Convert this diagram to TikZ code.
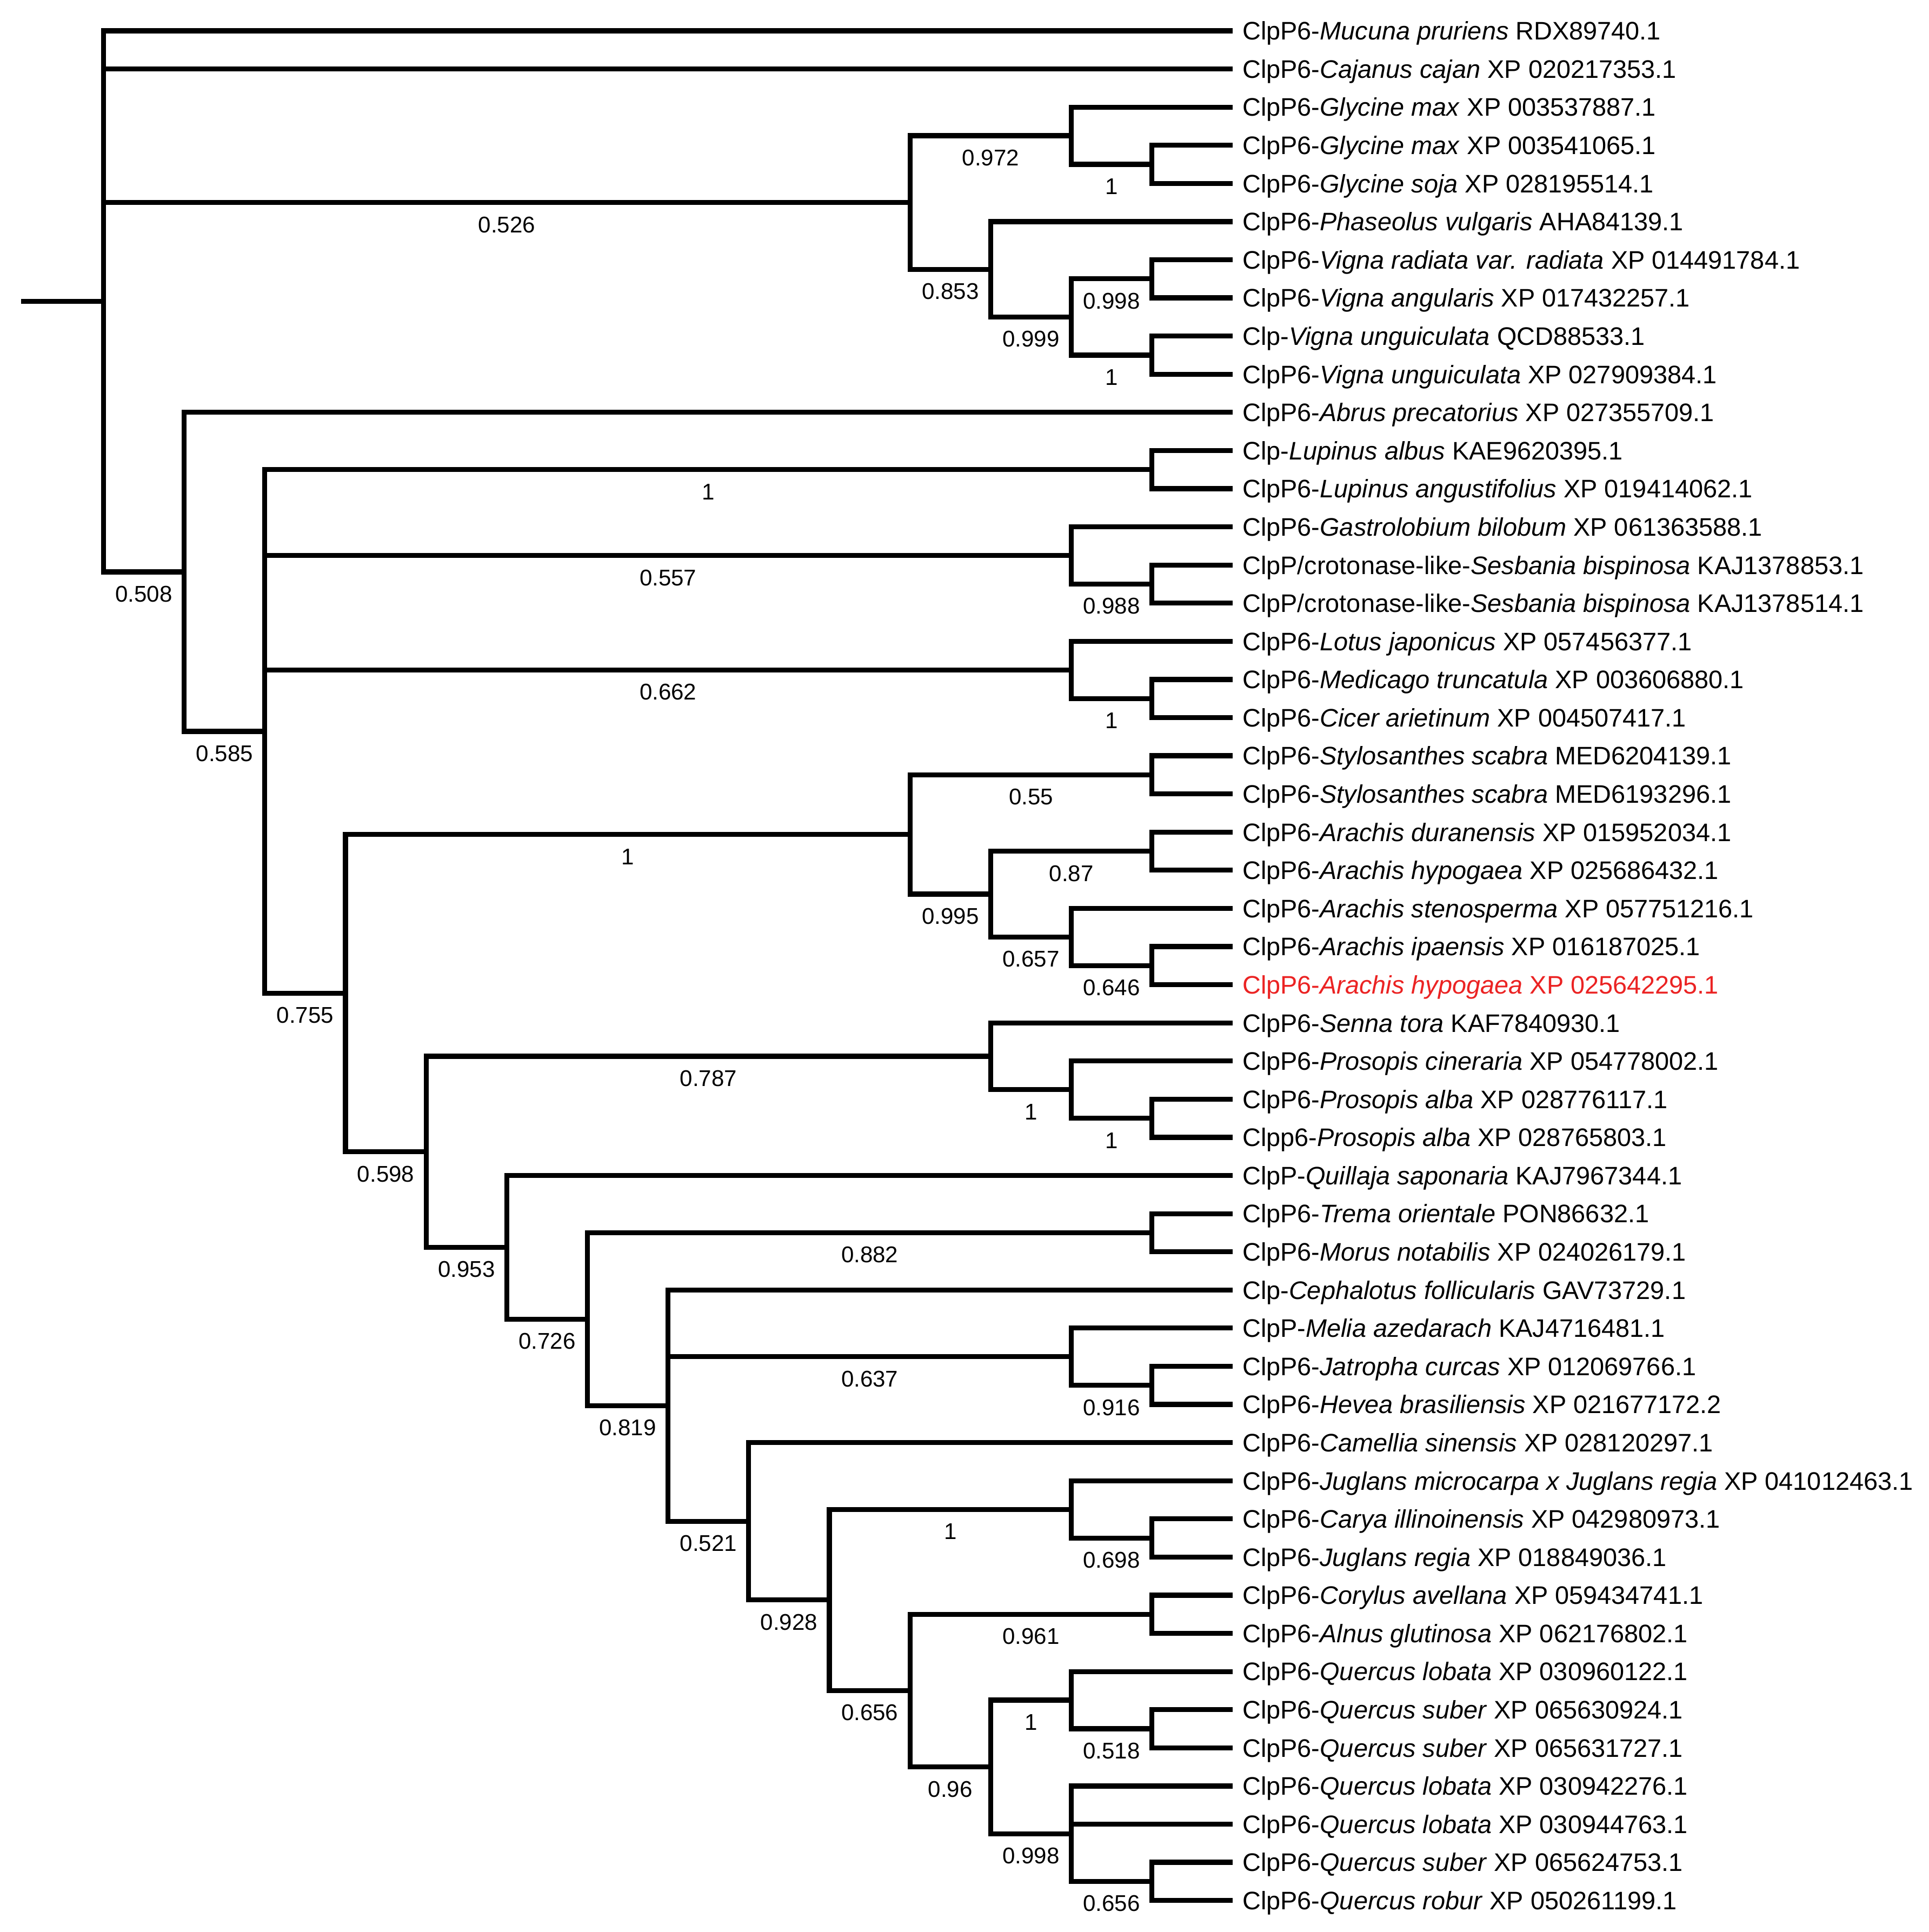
\documentclass[tikz,border=0pt]{standalone}
\usepackage{fontspec}
\setmainfont{Liberation Sans}
\usepackage{tikz}
\definecolor{HiRed}{RGB}{235,35,35}

\begin{document}
\begin{tikzpicture}[x=1.3086cm,y=-0.6192cm,line width=2.3pt]
		\tikzstyle{Leaf}=[anchor=base west,inner sep=0pt,xshift=0.12cm,yshift=-4.2pt,font=\fontsize{11.7}{14}\selectfont]
		\tikzstyle{Support}=[inner sep=0pt,yshift=-0.36cm,font=\fontsize{10.5}{12}\selectfont]
		\useasboundingbox (-1.2838,0.1925) rectangle (22.635,50.827);
		% leaves
		\coordinate (l1) at (14,1);   \node[Leaf] (t1) at (l1) {ClpP6-\textit{Mucuna pruriens} RDX89740.1};
		\coordinate (l2) at (14,2);   \node[Leaf] (t2) at (l2) {ClpP6-\textit{Cajanus cajan} XP 020217353.1};
		\coordinate (l3) at (14,3);   \node[Leaf] (t3) at (l3) {ClpP6-\textit{Glycine max} XP 003537887.1};
		\coordinate (l4) at (14,4);   \node[Leaf] (t4) at (l4) {ClpP6-\textit{Glycine max} XP 003541065.1};
		\coordinate (l5) at (14,5);   \node[Leaf] (t5) at (l5) {ClpP6-\textit{Glycine soja} XP 028195514.1};
		\coordinate (l6) at (14,6);   \node[Leaf] (t6) at (l6) {ClpP6-\textit{Phaseolus vulgaris} AHA84139.1};
		\coordinate (l7) at (14,7);   \node[Leaf] (t7) at (l7) {ClpP6-\textit{Vigna radiata var. radiata} XP 014491784.1};
		\coordinate (l8) at (14,8);   \node[Leaf] (t8) at (l8) {ClpP6-\textit{Vigna angularis} XP 017432257.1};
		\coordinate (l9) at (14,9);   \node[Leaf] (t9) at (l9) {Clp-\textit{Vigna unguiculata} QCD88533.1};
		\coordinate (l10) at (14,10); \node[Leaf] (t10) at (l10) {ClpP6-\textit{Vigna unguiculata} XP 027909384.1};
		\coordinate (l11) at (14,11); \node[Leaf] (t11) at (l11) {ClpP6-\textit{Abrus precatorius} XP 027355709.1};
		\coordinate (l12) at (14,12); \node[Leaf] (t12) at (l12) {Clp-\textit{Lupinus albus} KAE9620395.1};
		\coordinate (l13) at (14,13); \node[Leaf] (t13) at (l13) {ClpP6-\textit{Lupinus angustifolius} XP 019414062.1};
		\coordinate (l14) at (14,14); \node[Leaf] (t14) at (l14) {ClpP6-\textit{Gastrolobium bilobum} XP 061363588.1};
		\coordinate (l15) at (14,15); \node[Leaf] (t15) at (l15) {ClpP/crotonase-like-\textit{Sesbania bispinosa} KAJ1378853.1};
		\coordinate (l16) at (14,16); \node[Leaf] (t16) at (l16) {ClpP/crotonase-like-\textit{Sesbania bispinosa} KAJ1378514.1};
		\coordinate (l17) at (14,17); \node[Leaf] (t17) at (l17) {ClpP6-\textit{Lotus japonicus} XP 057456377.1};
		\coordinate (l18) at (14,18); \node[Leaf] (t18) at (l18) {ClpP6-\textit{Medicago truncatula} XP 003606880.1};
		\coordinate (l19) at (14,19); \node[Leaf] (t19) at (l19) {ClpP6-\textit{Cicer arietinum} XP 004507417.1};
		\coordinate (l20) at (14,20); \node[Leaf] (t20) at (l20) {ClpP6-\textit{Stylosanthes scabra} MED6204139.1};
		\coordinate (l21) at (14,21); \node[Leaf] (t21) at (l21) {ClpP6-\textit{Stylosanthes scabra} MED6193296.1};
		\coordinate (l22) at (14,22); \node[Leaf] (t22) at (l22) {ClpP6-\textit{Arachis duranensis} XP 015952034.1};
		\coordinate (l23) at (14,23); \node[Leaf] (t23) at (l23) {ClpP6-\textit{Arachis hypogaea} XP 025686432.1};
		\coordinate (l24) at (14,24); \node[Leaf] (t24) at (l24) {ClpP6-\textit{Arachis stenosperma} XP 057751216.1};
		\coordinate (l25) at (14,25); \node[Leaf] (t25) at (l25) {ClpP6-\textit{Arachis ipaensis} XP 016187025.1};
		\coordinate (l26) at (14,26); \node[Leaf,text=HiRed] (t26) at (l26) {ClpP6-\textit{Arachis hypogaea} XP 025642295.1};
		\coordinate (l27) at (14,27); \node[Leaf] (t27) at (l27) {ClpP6-\textit{Senna tora} KAF7840930.1};
		\coordinate (l28) at (14,28); \node[Leaf] (t28) at (l28) {ClpP6-\textit{Prosopis cineraria} XP 054778002.1};
		\coordinate (l29) at (14,29); \node[Leaf] (t29) at (l29) {ClpP6-\textit{Prosopis alba} XP 028776117.1};
		\coordinate (l30) at (14,30); \node[Leaf] (t30) at (l30) {Clpp6-\textit{Prosopis alba} XP 028765803.1};
		\coordinate (l31) at (14,31); \node[Leaf] (t31) at (l31) {ClpP-\textit{Quillaja saponaria} KAJ7967344.1};
		\coordinate (l32) at (14,32); \node[Leaf] (t32) at (l32) {ClpP6-\textit{Trema orientale} PON86632.1};
		\coordinate (l33) at (14,33); \node[Leaf] (t33) at (l33) {ClpP6-\textit{Morus notabilis} XP 024026179.1};
		\coordinate (l34) at (14,34); \node[Leaf] (t34) at (l34) {Clp-\textit{Cephalotus follicularis} GAV73729.1};
		\coordinate (l35) at (14,35); \node[Leaf] (t35) at (l35) {ClpP-\textit{Melia azedarach} KAJ4716481.1};
		\coordinate (l36) at (14,36); \node[Leaf] (t36) at (l36) {ClpP6-\textit{Jatropha curcas} XP 012069766.1};
		\coordinate (l37) at (14,37); \node[Leaf] (t37) at (l37) {ClpP6-\textit{Hevea brasiliensis} XP 021677172.2};
		\coordinate (l38) at (14,38); \node[Leaf] (t38) at (l38) {ClpP6-\textit{Camellia sinensis} XP 028120297.1};
		\coordinate (l39) at (14,39); \node[Leaf] (t39) at (l39) {ClpP6-\textit{Juglans microcarpa x Juglans regia} XP 041012463.1};
		\coordinate (l40) at (14,40); \node[Leaf] (t40) at (l40) {ClpP6-\textit{Carya illinoinensis} XP 042980973.1};
		\coordinate (l41) at (14,41); \node[Leaf] (t41) at (l41) {ClpP6-\textit{Juglans regia} XP 018849036.1};
		\coordinate (l42) at (14,42); \node[Leaf] (t42) at (l42) {ClpP6-\textit{Corylus avellana} XP 059434741.1};
		\coordinate (l43) at (14,43); \node[Leaf] (t43) at (l43) {ClpP6-\textit{Alnus glutinosa} XP 062176802.1};
		\coordinate (l44) at (14,44); \node[Leaf] (t44) at (l44) {ClpP6-\textit{Quercus lobata} XP 030960122.1};
		\coordinate (l45) at (14,45); \node[Leaf] (t45) at (l45) {ClpP6-\textit{Quercus suber} XP 065630924.1};
		\coordinate (l46) at (14,46); \node[Leaf] (t46) at (l46) {ClpP6-\textit{Quercus suber} XP 065631727.1};
		\coordinate (l47) at (14,47); \node[Leaf] (t47) at (l47) {ClpP6-\textit{Quercus lobata} XP 030942276.1};
		\coordinate (l48) at (14,48); \node[Leaf] (t48) at (l48) {ClpP6-\textit{Quercus lobata} XP 030944763.1};
		\coordinate (l49) at (14,49); \node[Leaf] (t49) at (l49) {ClpP6-\textit{Quercus suber} XP 065624753.1};
		\coordinate (l50) at (14,50); \node[Leaf] (t50) at (l50) {ClpP6-\textit{Quercus robur} XP 050261199.1};
		% inner nodes
		\coordinate (root) at (-1.02,8.0901);
		\coordinate (n0) at (0,8.0901);
		\coordinate (a) at (10,5.5);
		\coordinate (g) at (12,3.75);
		\coordinate (g1) at (13,4.5);
		\coordinate (p) at (11,7.25);
		\coordinate (v) at (12,8.5);
		\coordinate (v1) at (13,7.5);
		\coordinate (v2) at (13,9.5);
		\coordinate (b) at (1,15.1802);
		\coordinate (c) at (2,19.3604);
		\coordinate (lu) at (13,12.5);
		\coordinate (ga) at (12,14.75);
		\coordinate (ga1) at (13,15.5);
		\coordinate (lo) at (12,17.75);
		\coordinate (lo1) at (13,18.5);
		\coordinate (d) at (3,26.2207);
		\coordinate (arst) at (10,22.0625);
		\coordinate (st) at (13,20.5);
		\coordinate (ar) at (11,23.625);
		\coordinate (ar1) at (13,22.5);
		\coordinate (ar2) at (12,24.75);
		\coordinate (ar3) at (13,25.5);
		\coordinate (e) at (4,30.3789);
		\coordinate (se) at (11,27.875);
		\coordinate (pr) at (12,28.75);
		\coordinate (pr1) at (13,29.5);
		\coordinate (f) at (5,32.8828);
		\coordinate (g2) at (6,34.7656);
		\coordinate (tm) at (13,32.5);
		\coordinate (h) at (7,37.0313);
		\coordinate (me) at (12,35.75);
		\coordinate (me1) at (13,36.5);
		\coordinate (i) at (8,40.0625);
		\coordinate (j) at (9,42.125);
		\coordinate (ju) at (12,39.75);
		\coordinate (ju1) at (13,40.5);
		\coordinate (k) at (10,44.5);
		\coordinate (co) at (13,42.5);
		\coordinate (q) at (11,46.5);
		\coordinate (q1) at (12,44.75);
		\coordinate (q1a) at (13,45.5);
		\coordinate (q2) at (12,48.25);
		\coordinate (q2a) at (13,49.5);
		% branches
		\draw (root) -- (n0);
		\draw (l1) -| (n0) |- node[pos=0.75,Support]{0.508} (b);
		\draw (n0 |- l2) -- (l2);
		\draw (n0 |- a) -- node[Support]{0.526} (a);
		\draw (g) -| node[pos=0.25,Support]{0.972} (a) |- node[pos=0.75,Support]{0.853} (p);
		\draw (l3) -| (g) |- node[pos=0.75,Support]{1} (g1);
		\draw (l4) -| (g1) |- (l5);
		\draw (l6) -| (p) |- node[pos=0.75,Support]{0.999} (v);
		\draw (v1) -| node[pos=0.25,Support]{0.998} (v) |- node[pos=0.75,Support]{1} (v2);
		\draw (l7) -| (v1) |- (l8);
		\draw (l9) -| (v2) |- (l10);
		\draw (l11) -| (b) |- node[pos=0.75,Support]{0.585} (c);
		\draw (lu) -| node[pos=0.25,Support]{1} (c) |- node[pos=0.75,Support]{0.755} (d);
		\draw (c |- ga) -- node[Support]{0.557} (ga);
		\draw (c |- lo) -- node[Support]{0.662} (lo);
		\draw (l12) -| (lu) |- (l13);
		\draw (l14) -| (ga) |- node[pos=0.75,Support]{0.988} (ga1);
		\draw (l15) -| (ga1) |- (l16);
		\draw (l17) -| (lo) |- node[pos=0.75,Support]{1} (lo1);
		\draw (l18) -| (lo1) |- (l19);
		\draw (arst) -| node[pos=0.25,Support]{1} (d) |- node[pos=0.75,Support]{0.598} (e);
		\draw (st) -| node[pos=0.25,Support]{0.55} (arst) |- node[pos=0.75,Support]{0.995} (ar);
		\draw (l20) -| (st) |- (l21);
		\draw (ar1) -| node[pos=0.25,Support]{0.87} (ar) |- node[pos=0.75,Support]{0.657} (ar2);
		\draw (l22) -| (ar1) |- (l23);
		\draw (l24) -| (ar2) |- node[pos=0.75,Support]{0.646} (ar3);
		\draw (l25) -| (ar3) |- (l26);
		\draw (se) -| node[pos=0.25,Support]{0.787} (e) |- node[pos=0.75,Support]{0.953} (f);
		\draw (l27) -| (se) |- node[pos=0.75,Support]{1} (pr);
		\draw (l28) -| (pr) |- node[pos=0.75,Support]{1} (pr1);
		\draw (l29) -| (pr1) |- (l30);
		\draw (l31) -| (f) |- node[pos=0.75,Support]{0.726} (g2);
		\draw (tm) -| node[pos=0.25,Support]{0.882} (g2) |- node[pos=0.75,Support]{0.819} (h);
		\draw (l32) -| (tm) |- (l33);
		\draw (l34) -| (h) |- node[pos=0.75,Support]{0.521} (i);
		\draw (h |- me) -- node[Support]{0.637} (me);
		\draw (l35) -| (me) |- node[pos=0.75,Support]{0.916} (me1);
		\draw (l36) -| (me1) |- (l37);
		\draw (l38) -| (i) |- node[pos=0.75,Support]{0.928} (j);
		\draw (ju) -| node[pos=0.25,Support]{1} (j) |- node[pos=0.75,Support]{0.656} (k);
		\draw (l39) -| (ju) |- node[pos=0.75,Support]{0.698} (ju1);
		\draw (l40) -| (ju1) |- (l41);
		\draw (co) -| node[pos=0.25,Support]{0.961} (k) |- node[pos=0.75,Support]{0.96} (q);
		\draw (l42) -| (co) |- (l43);
		\draw (q1) -| node[pos=0.25,Support]{1} (q) |- node[pos=0.75,Support]{0.998} (q2);
		\draw (l44) -| (q1) |- node[pos=0.75,Support]{0.518} (q1a);
		\draw (l45) -| (q1a) |- (l46);
		\draw (l47) -| (q2) |- node[pos=0.75,Support]{0.656} (q2a);
		\draw (q2 |- l48) -- (l48);
		\draw (l49) -| (q2a) |- (l50);
	\end{tikzpicture}
\end{document}
